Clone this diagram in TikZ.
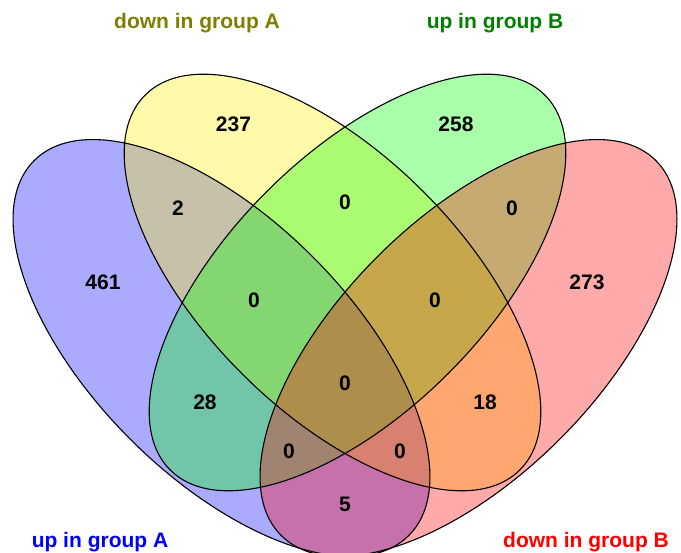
\documentclass[tikz,border=0pt]{standalone}
\usepackage{fontspec}
\setmainfont{Liberation Sans}
\definecolor{oliveT}{RGB}{128,128,0}
\definecolor{greenT}{RGB}{0,128,0}
\begin{document}
\begin{tikzpicture}[x=1pt,y=-1pt,
  setfill/.style={fill opacity=0.3333},
  setline/.style={draw=black,line width=1.1pt},
  num/.style={font=\fontsize{21}{25}\selectfont\bfseries, inner sep=0pt},
  ttl/.style={font=\fontsize{21}{25}\selectfont\bfseries, inner sep=0pt, anchor=base}]
\useasboundingbox (0,0) rectangle (681,553);
\fill[white] (0,0) rectangle (681,553);
\coordinate (cUA) at (221.5,348);
\coordinate (cDA) at (332.5,282.5);
\coordinate (cUB) at (357.5,282.5);
\coordinate (cDB) at (468.5,348);
\begin{scope}
\clip (0,0) rectangle (681,553);
\fill[blue,setfill,rotate around={-45:(cUA)}] (cUA) ellipse [x radius=265pt, y radius=129pt];
\fill[yellow,setfill,rotate around={-45:(cDA)}] (cDA) ellipse [x radius=265pt, y radius=128.5pt];
\fill[green,setfill,rotate around={45:(cUB)}] (cUB) ellipse [x radius=265pt, y radius=128.5pt];
\fill[red,setfill,rotate around={45:(cDB)}] (cDB) ellipse [x radius=265pt, y radius=129pt];
\draw[setline,rotate around={-45:(cUA)}] (cUA) ellipse [x radius=265pt, y radius=129pt];
\draw[setline,rotate around={-45:(cDA)}] (cDA) ellipse [x radius=265pt, y radius=128.5pt];
\draw[setline,rotate around={45:(cUB)}] (cUB) ellipse [x radius=265pt, y radius=128.5pt];
\draw[setline,rotate around={45:(cDB)}] (cDB) ellipse [x radius=265pt, y radius=129pt];
\end{scope}
% region counts
\node[num] (n237) at (233.5,124.5) {237};
\node[num] (n258) at (456,124.5) {258};
\node[num] (n2) at (178,208) {2};
\node[num] (nYG) at (345,202) {0};
\node[num] (nGR) at (512,208) {0};
\node[num] (n461) at (103,282) {461};
\node[num] (n273) at (587,282) {273};
\node[num] (nL) at (254,300) {0};
\node[num] (nR) at (435,300) {0};
\node[num] (nC) at (345,383) {0};
\node[num] (n28) at (205,402) {28};
\node[num] (n18) at (485,402) {18};
\node[num] (nBL) at (289,451) {0};
\node[num] (nBR) at (400,451) {0};
\node[num] (n5) at (345,504) {5};
% titles
\node[ttl,text=oliveT] (tDA) at (197,29) {down in group A};
\node[ttl,text=greenT] (tUB) at (495,29) {up in group B};
\node[ttl,text=blue] (tUA) at (100,548) {up in group A};
\node[ttl,text=red] (tDB) at (586,548) {down in group B};
\end{tikzpicture}
\end{document}
